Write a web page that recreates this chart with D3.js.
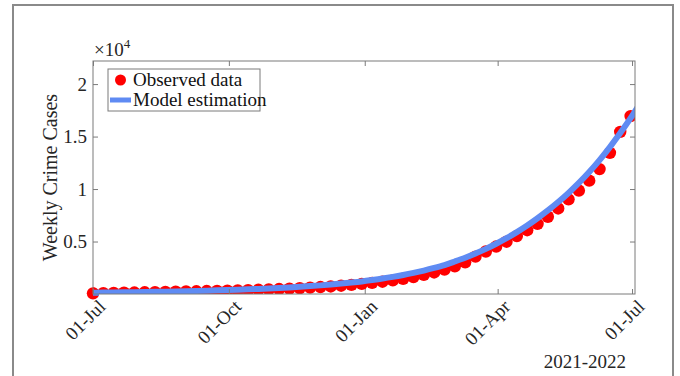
<!DOCTYPE html>
<html>
<head>
<meta charset="utf-8">
<script src="https://cdn.jsdelivr.net/npm/d3@7"></script>
<style>
  body { margin: 0; background: #fff; }
  svg { display: block; font-family: "Liberation Serif", "Times New Roman", serif; }
</style>
</head>
<body>
<svg id="chart" width="680" height="376"></svg>
<script>
// weekly dates, 01-Jul-2021 .. 30-Jun-2022 (model runs one week further, clipped)
const startDate = '2021-07-01';
const weeks = d3.range(54);

// observed weekly crime cases
const observed = [
  60, 80, 100, 120, 140, 160, 180, 200, 220, 240,
  260, 280, 300, 320, 340, 370, 400, 430, 470, 510,
  560, 610, 660, 720, 790, 870, 960, 1060, 1170, 1300,
  1450, 1620, 1820, 2050, 2320, 2640, 3020, 3560, 4050, 4520,
  4980, 5520, 6080, 6680, 7360, 8150, 9020, 9860, 10800, 11900,
  13450, 15450, 16950
];

// model estimation
const model = [
  120, 132, 145, 159, 174, 190, 207, 226, 246, 268,
  292, 318, 346, 377, 410, 446, 486, 530, 578, 630,
  688, 752, 822, 900, 990, 1090, 1200, 1330, 1470, 1630,
  1810, 2010, 2230, 2480, 2760, 3100, 3460, 3860, 4300, 4790,
  5320, 5900, 6530, 7220, 7960, 8760, 9630, 10580, 11620, 12760,
  14000, 15330, 16750, 18300
];

const xTickDates = ['2021-07-01', '2021-10-01', '2022-01-01', '2022-04-01', '2022-07-01'];
const xTickLabels = ['01-Jul', '01-Oct', '01-Jan', '01-Apr', '01-Jul'];
const yTicks = [5000, 10000, 15000, 20000];
const yTickLabels = ['0.5', '1', '1.5', '2'];

const parse = d3.utcParse('%Y-%m-%d');
const t0 = parse(startDate);
const dates = weeks.map(w => d3.utcDay.offset(t0, w * 7));

const margin = {left: 93, top: 61, right: 45, bottom: 82},
  width = 680 - margin.left - margin.right,
  height = 376 - margin.top - margin.bottom;

const svg = d3.select('#chart');

// outer figure frame
svg.append('rect')
  .attr('x', 13).attr('y', 5)
  .attr('width', 660).attr('height', 400)
  .attr('fill', 'none')
  .attr('stroke', '#8a8a8a')
  .attr('stroke-width', 2);

const x = d3.scaleUtc()
  .domain([t0, parse('2022-07-03')])
  .range([0, width]);

const y = d3.scaleLinear()
  .domain([0, 22200])
  .range([height, 0]);

const g = svg.append('g')
  .attr('transform', `translate(${margin.left},${margin.top})`);

g.append('clipPath').attr('id', 'clip')
  .append('rect').attr('width', width).attr('height', height);

const plot = g.append('g').attr('clip-path', 'url(#clip)');

plot.selectAll('circle.obs')
  .data(observed)
  .enter()
  .append('circle')
  .attr('class', 'obs')
  .attr('cx', (d, i) => x(dates[i]))
  .attr('cy', d => y(d))
  .attr('r', 6.2)
  .style('fill', '#ff0000');

const line = d3.line()
  .x((d, i) => x(dates[i]))
  .y(d => y(d))
  .curve(d3.curveMonotoneX);

plot.append('path')
  .datum(model)
  .attr('d', line)
  .attr('fill', 'none')
  .attr('stroke', '#5f8bf3')
  .attr('stroke-width', 6);

// dots at the left edge are drawn over the axis in the original
g.append('circle')
  .attr('cx', x(dates[0]))
  .attr('cy', y(observed[0]))
  .attr('r', 6.2)
  .style('fill', '#ff0000');
g.append('path')
  .attr('d', `M0,${y(model[0]) - 3}h6v6h-6z`)
  .attr('fill', '#5f8bf3');

// box + inward ticks
const axisColor = '#7a7a7a';
g.append('rect')
  .attr('width', width).attr('height', height)
  .attr('fill', 'none')
  .attr('stroke', axisColor)
  .attr('stroke-width', 1);

const xTicks = xTickDates.map(parse);

const xAxisB = d3.axisBottom(x).tickValues(xTicks).tickSize(-5).tickFormat('');
const xAxisT = d3.axisTop(x).tickValues(xTicks).tickSize(-5).tickFormat('');
const yAxisL = d3.axisLeft(y).tickValues(yTicks).tickSize(-5).tickFormat('');
const yAxisR = d3.axisRight(y).tickValues(yTicks).tickSize(-5).tickFormat('');

[[xAxisB, `translate(0,${height})`], [xAxisT, 'translate(0,0)'],
 [yAxisL, 'translate(0,0)'], [yAxisR, `translate(${width},0)`]].forEach(([ax, tr]) => {
  const a = g.append('g').attr('transform', tr).call(ax);
  a.select('.domain').remove();
  a.selectAll('line').attr('stroke', axisColor);
});

// y tick labels
g.selectAll('text.ylab')
  .data(yTicks)
  .enter()
  .append('text')
  .attr('class', 'ylab')
  .attr('x', -6)
  .attr('y', d => y(d))
  .attr('dy', '0.35em')
  .attr('text-anchor', 'end')
  .style('font-size', '19px')
  .style('fill', '#262626')
  .text((d, i) => yTickLabels[i]);

// x tick labels, rotated
g.selectAll('text.xlab')
  .data(xTicks)
  .enter()
  .append('text')
  .attr('class', 'xlab')
  .attr('transform', d => `translate(${x(d) + 9},${height + 9}) rotate(-45)`)
  .attr('text-anchor', 'end')
  .attr('dy', '0.35em')
  .style('font-size', '19px')
  .style('fill', '#262626')
  .text((d, i) => xTickLabels[i]);

// exponent
const ex = g.append('text')
  .attr('x', 1).attr('y', -5)
  .style('font-size', '19px')
  .style('fill', '#262626');
ex.append('tspan').text('\u00d710');
ex.append('tspan').attr('dy', -8).style('font-size', '13px').text('4');

// y label
g.append('text')
  .attr('transform', `translate(-36,${height / 2}) rotate(-90)`)
  .attr('text-anchor', 'middle')
  .style('font-size', '20px')
  .style('fill', '#262626')
  .text('Weekly Crime Cases');

// year note
g.append('text')
  .attr('x', 533).attr('y', 307)
  .attr('text-anchor', 'end')
  .style('font-size', '19px')
  .style('fill', '#262626')
  .text('2021-2022');

// legend
const lg = g.append('g').attr('transform', 'translate(15,8)');
lg.append('rect')
  .attr('width', 152).attr('height', 42)
  .attr('fill', '#fff')
  .attr('stroke', axisColor)
  .attr('stroke-width', 1);
lg.append('circle')
  .attr('cx', 12.5).attr('cy', 11)
  .attr('r', 5.5)
  .style('fill', '#ff0000');
lg.append('line')
  .attr('x1', 2).attr('x2', 23)
  .attr('y1', 31).attr('y2', 31)
  .attr('stroke', '#5f8bf3')
  .attr('stroke-width', 5);
lg.append('text')
  .attr('x', 25).attr('y', 17)
  .style('font-size', '19px')
  .style('fill', '#111')
  .text('Observed data');
lg.append('text')
  .attr('x', 25).attr('y', 37)
  .style('font-size', '19px')
  .style('fill', '#111')
  .text('Model estimation');
</script>
</body>
</html>
